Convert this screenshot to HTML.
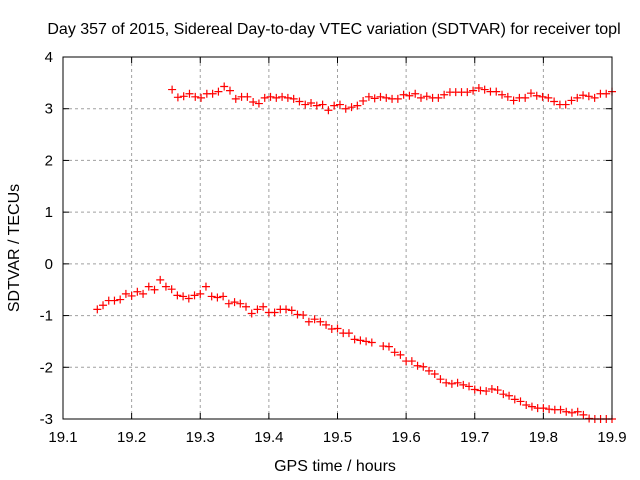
<!DOCTYPE html>
<html><head><meta charset="utf-8"><style>
body{margin:0;background:#fff}
svg{display:block;font-family:"Liberation Sans",sans-serif}
</style></head><body>
<svg id="chart" width="640" height="480">
<rect width="640" height="480" fill="#fff"/>
<text x="334" y="34" text-anchor="middle" font-size="16">Day 357 of 2015, Sidereal Day-to-day VTEC variation (SDTVAR) for receiver topl</text>
<text x="335" y="471" text-anchor="middle" font-size="16">GPS time / hours</text>
<text transform="translate(19,248) rotate(-90)" text-anchor="middle" font-size="16">SDTVAR / TECUs</text>
<g id="grid"></g><g id="ticks"></g><g id="marks"></g>
<rect x="63" y="57" width="549" height="362" fill="none" stroke="#000" stroke-width="1"/>
</svg>
<script>
const xTicks=[19.1,19.2,19.3,19.4,19.5,19.6,19.7,19.8,19.9];
const yTicks=[-3,-2,-1,0,1,2,3,4];
const upperStart=19.259;
const upperEnd=19.9;
const upperValues=[3.37,3.22,3.24,3.29,3.23,3.21,3.29,3.29,3.33,3.43,3.35,3.19,3.23,3.23,3.13,3.10,3.21,3.23,3.21,3.23,3.21,3.19,3.14,3.08,3.11,3.06,3.08,2.97,3.06,3.08,3.00,3.03,3.06,3.15,3.23,3.20,
3.23,3.21,3.19,3.19,3.27,3.25,3.29,3.21,3.24,3.21,3.21,3.27,3.32,3.32,3.32,3.32,3.35,3.40,3.37,3.33,3.33,3.27,3.23,3.16,3.21,3.21,3.30,3.25,3.23,3.21,3.14,3.08,3.08,3.16,3.21,3.26,3.24,3.21,3.29,3.29,3.33];
const lowerStart=19.15;
const lowerEnd=19.9;
const lowerValues=[-0.88,-0.80,-0.71,-0.71,-0.69,-0.58,-0.62,-0.54,-0.58,-0.44,-0.50,-0.31,-0.44,-0.49,-0.61,-0.63,-0.67,-0.61,-0.58,-0.44,-0.63,-0.65,-0.63,-0.77,-0.74,-0.77,-0.83,-0.96,-0.88,-0.83,-0.94,-0.94,-0.88,-0.88,-0.90,-0.98,-0.99,-1.12,-1.07,-1.12,-1.18,-1.26,-1.25,-1.34,-1.34,-1.46,
-1.48,-1.50,-1.52,null,-1.59,-1.60,-1.71,-1.76,-1.88,-1.88,-1.97,-1.99,-2.07,-2.13,-2.23,-2.30,-2.32,-2.30,-2.34,-2.37,-2.43,-2.45,-2.46,-2.42,-2.44,-2.52,-2.55,-2.62,-2.66,-2.73,-2.76,-2.79,-2.79,-2.81,-2.82,-2.82,-2.86,-2.88,-2.86,-2.92,-2.99,-3.00,-3.00,-3.00,-3.00];
const NS="http://www.w3.org/2000/svg";
const X0=63,X1=612,Y0=419,Y1=57;
function xs(v){return X0+(v-19.1)/(0.8)*(X1-X0);}
function ys(v){return Y0-(v+3)/7*(Y0-Y1);}
function mk(t,a,p){const e=document.createElementNS(NS,t);for(const k in a)e.setAttribute(k,a[k]);p.appendChild(e);return e;}
const grid=document.getElementById('grid'),ticks=document.getElementById('ticks'),marks=document.getElementById('marks');
xTicks.forEach(v=>{const x=xs(v);
 if(v>19.1&&v<19.9){const g=mk('line',{x1:x,x2:x,y1:Y1,y2:Y0,stroke:'#a0a0a0','stroke-dasharray':'3,3'},grid);
 
 }
 mk('line',{x1:x,x2:x,y1:Y0,y2:Y0-6,stroke:'#000'},ticks);mk('line',{x1:x,x2:x,y1:Y1,y2:Y1+6,stroke:'#000'},ticks);
 const t=mk('text',{x:x,y:442,'text-anchor':'middle','font-size':'15'},ticks);t.textContent=v.toFixed(1);
 
 });
yTicks.forEach(v=>{const y=ys(v);
 if(v>-3&&v<4){const g=mk('line',{x1:X0,x2:X1,y1:y,y2:y,stroke:'#a0a0a0','stroke-dasharray':'3,3'},grid);
 
 }
 mk('line',{x1:X0,x2:X0+6,y1:y,y2:y,stroke:'#000'},ticks);mk('line',{x1:X1,x2:X1-6,y1:y,y2:y,stroke:'#000'},ticks);
 const t=mk('text',{x:53,y:y+5,'text-anchor':'end','font-size':'15'},ticks);t.textContent=String(v);
 
 });
function plot(vals,start,end,name){const st=(end-start)/(vals.length-1);vals.forEach((v,i)=>{if(v===null)return;const x=xs(start+i*st),y=ys(v);
 const p=mk('path',{d:`M${x-4},${y}H${x+4}M${x},${y-4}V${y+4}`,stroke:'#f00','stroke-width':'1.2',fill:'none'},marks);
 
 });}
plot(upperValues,upperStart,upperEnd,'upper-point');
plot(lowerValues,lowerStart,lowerEnd,'lower-point');
</script>
</body></html>
